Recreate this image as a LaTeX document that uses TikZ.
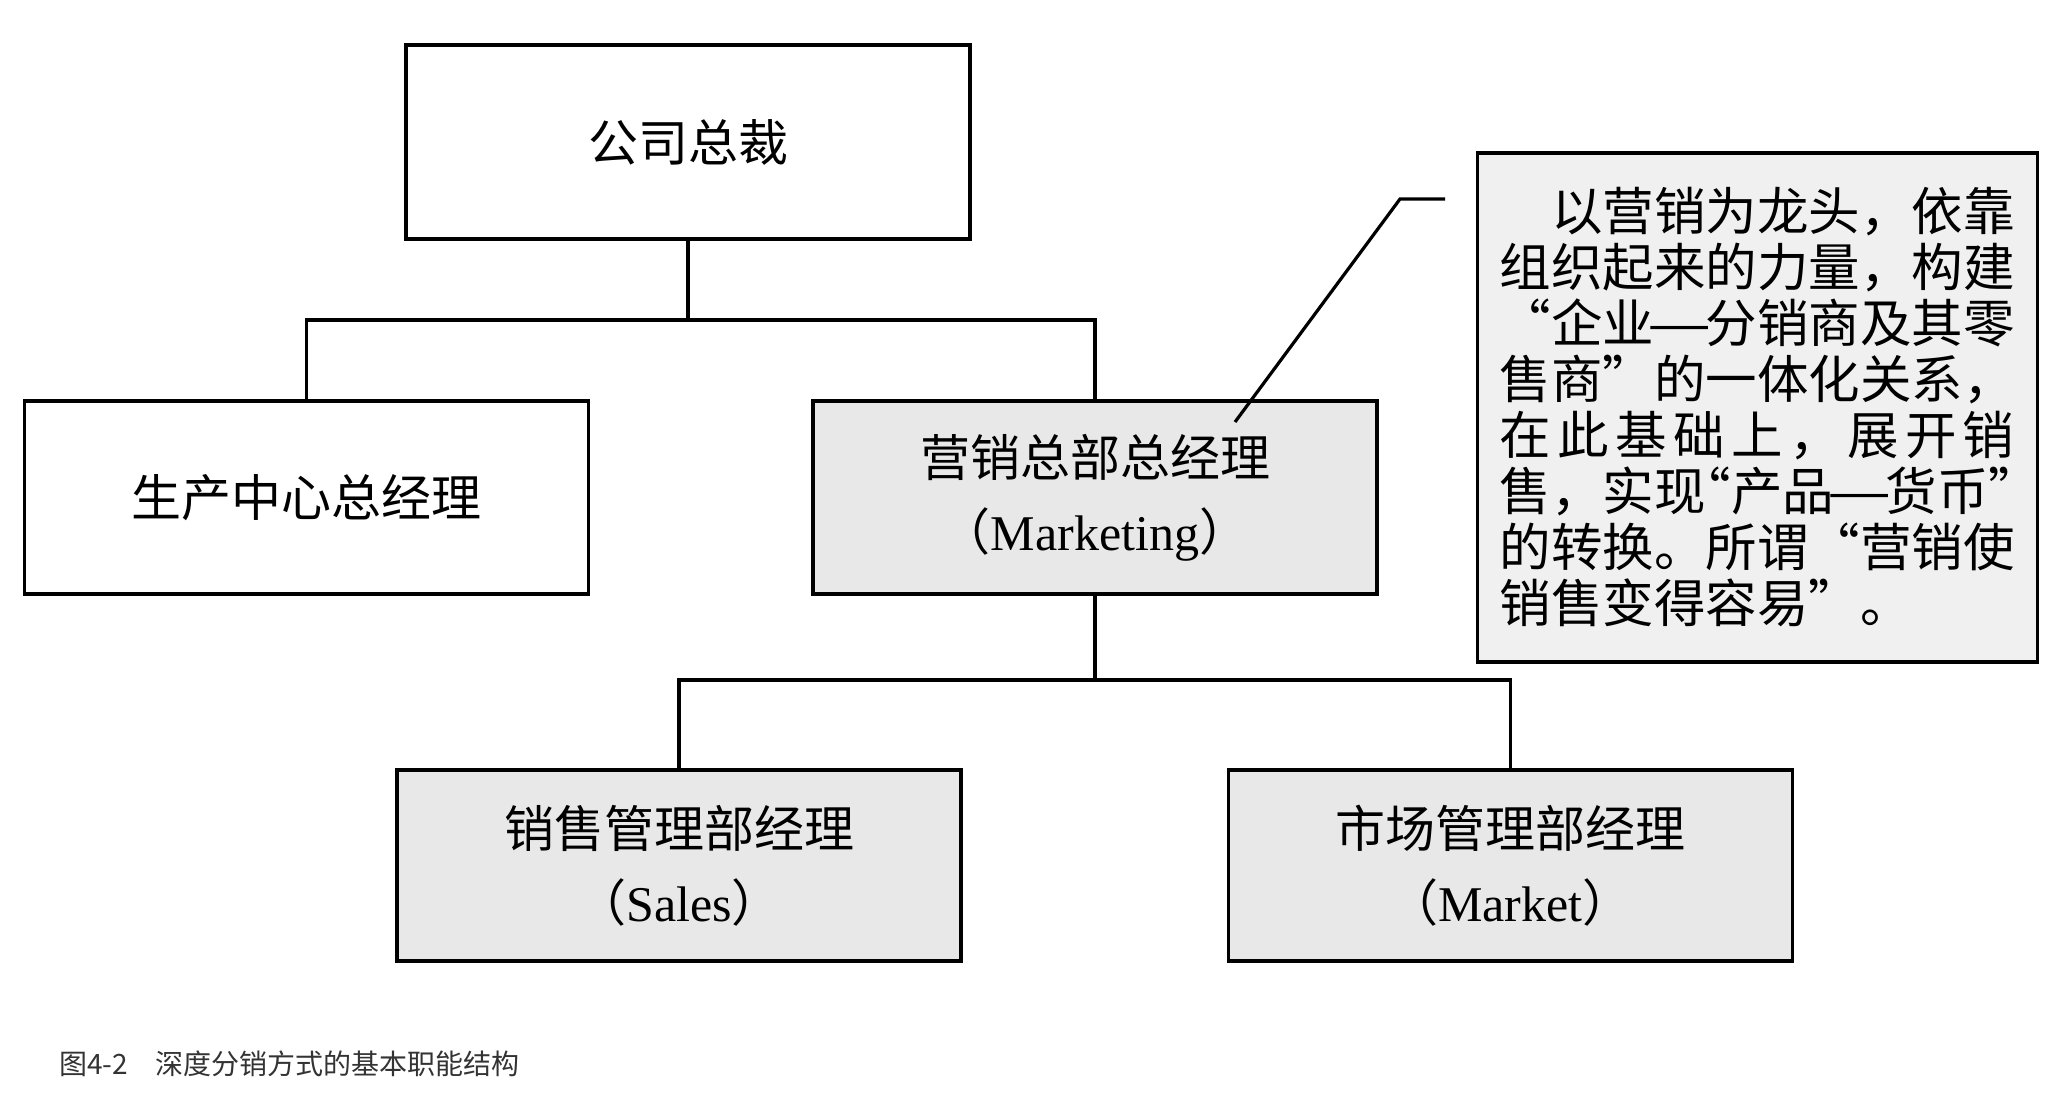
\documentclass[tikz,border=0pt]{standalone}
\usepackage{fontspec}
\setmainfont{Liberation Serif}
\newfontfamily\cjk{Noto Sans CJK SC}
\definecolor{boxgray}{gray}{0.91}
\definecolor{notegray}{gray}{0.94}
\definecolor{capgray}{gray}{0.2}
\newcommand{\longdash}{\makebox[1em]{\resizebox{1.25em}{\height}{—}}}
\begin{document}
\begin{tikzpicture}[x=0.5pt,y=-0.5pt,
    box/.style={draw,line width=1.8pt,minimum width=282pt,minimum height=96.5pt,align=center,font=\fontsize{25}{37}\selectfont},
    gbox/.style={box,fill=boxgray},
    link/.style={line width=1.6pt}]
\useasboundingbox (0,0) rectangle (2056,1104);
% boxes
\node[box,minimum height=97pt] (ceo) at (688,142) {\cjk 公司总裁};
\node[box] (prod) at (306.5,497.5) {\cjk 生产中心总经理};
\node[gbox] (mkt) at (1095,497.5) {{\cjk 营销总部总经理}\\{\cjk （}Marketing{\cjk ）}};
\node[gbox,minimum height=95.5pt] (sales) at (679,865.5) {{\cjk 销售管理部经理}\\{\cjk （}Sales{\cjk ）}};
\node[gbox,minimum height=95.5pt] (market) at (1510.5,865.5) {{\cjk 市场管理部经理}\\{\cjk （}Market{\cjk ）}};
% lines
\coordinate (top) at (688,320);
\draw[link] (ceo) -- (top);
\draw[link] (prod.north) |- (top) -| (mkt.north);
\coordinate (mid) at (1095,680);
\draw[link] (mkt) -- (mid);
\draw[link] (sales.north) |- (mid) -| (market.north);
% note
\node[draw,line width=1.8pt,fill=notegray,minimum width=280pt,minimum height=254.5pt,
    text width=258pt,align=left,font=\fontsize{25.75}{28}\selectfont\cjk] (note) at (1757.5,407.5)
    {\hspace*{1em}以营销为龙头，依靠\\
     组织起来的力量，构建\\
     “企业\longdash 分销商及其零\\
     售商”的一体化关系，\\
     \makebox[10em][s]{在\hfill 此\hfill 基\hfill 础\hfill 上\hfill ，\hfill 展\hfill 开\hfill 销}\\
     售，实现\nobreak\hspace{-0.5em}“产品\longdash 货币”\\
     的转换。所谓“营销使\\
     销售变得容易”。};
\coordinate (n1) at (1445,199);
\coordinate (n2) at (1400,199);
\coordinate (n3) at (1235,422);
\draw[link] (n1) -- (n2) -- (n3);
% caption
\node[anchor=base west,text=capgray,font=\fontsize{14}{16}\selectfont\cjk] (cap) at (52,1074)
    {图4-2\quad 深度分销方式的基本职能结构};
\end{tikzpicture}
\end{document}
